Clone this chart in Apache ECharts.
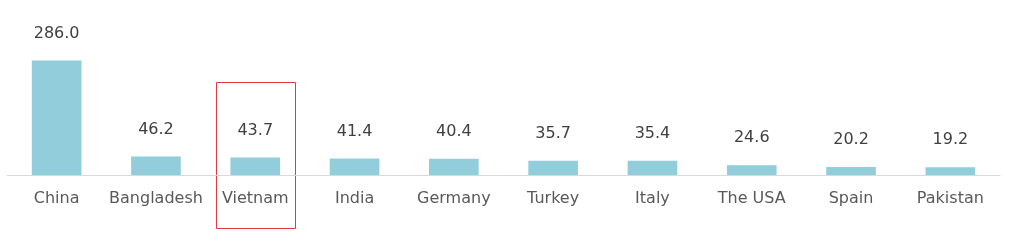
<!DOCTYPE html>
<html><head><meta charset="utf-8">
<script src="https://cdn.jsdelivr.net/npm/echarts@6/dist/echarts.min.js"></script>
<style>html,body{margin:0;padding:0;background:#fff}#c{width:1024px;height:242px}</style>
</head><body><div id="c"></div>
<script>
const categories = ["China","Bangladesh","Vietnam","India","Germany","Turkey","Italy","The USA","Spain","Pakistan"];
const values = [286.0,46.2,43.7,41.4,40.4,35.7,35.4,24.6,20.2,19.2];
const highlighted = "Vietnam";

const chart = echarts.init(document.getElementById('c'), null, {renderer:'canvas'});
const font = 'DejaVu Sans, Verdana, sans-serif';
chart.setOption({
  animation:false,
  grid:{left:7,right:24,top:55,bottom:67,containLabel:false},
  xAxis:{type:'category',data:categories,
    axisLine:{lineStyle:{color:'#d9d9d9',width:1}},
    axisTick:{show:false},
    axisLabel:{color:'#595959',fontFamily:font,fontSize:16,margin:16,interval:0}},
  yAxis:{type:'value',min:0,max:300,show:false,splitLine:{show:false}},
  series:[{type:'bar',data:values,barWidth:'50%',
    itemStyle:{color:'#92cddc'},
    label:{show:true,position:'top',distance:19,color:'#404040',fontFamily:font,fontSize:16,
      formatter:p=>p.value.toFixed(1)}}]
});
const idx = categories.indexOf(highlighted);
const cx = chart.convertToPixel({xAxisIndex:0}, categories[idx]);
const step = chart.convertToPixel({xAxisIndex:0}, categories[1]) - chart.convertToPixel({xAxisIndex:0}, categories[0]);
chart.setOption({graphic:[{type:'rect',shape:{x:Math.round(cx - step*0.4)+0.5,y:82.5,width:Math.round(step*0.8),height:146},
  style:{fill:'none',stroke:'#e0393e',lineWidth:1},silent:true}]});
</script></body></html>
